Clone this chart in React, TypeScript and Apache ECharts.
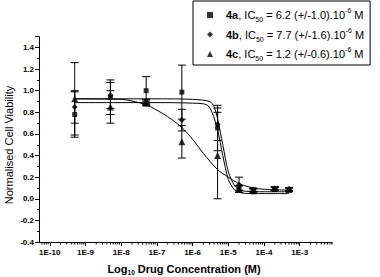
import React, { useEffect, useRef } from 'react';
import * as echarts from 'echarts';

const FONT = '"Liberation Sans", Arial, sans-serif';

// Concentrations (M)
const concentrations = [5e-10, 5e-9, 5e-8, 5e-7, 5e-6, 2e-5, 5e-5, 2e-4, 5e-4];

// Measured normalised viability and error (+/-)
const viability4a = [0.78, 0.94, 1.0, 0.987, 0.655, 0.1, 0.08, 0.09, 0.085];
const error4a = [0.21, 0.16, 0.13, 0.25, 0.21, 0.02, 0.015, 0.015, 0.015];
const viability4b = [0.85, 0.957, 0.9, 0.728, 0.69, 0.13, 0.085, 0.095, 0.09];
const error4b = [0.15, 0.12, 0.02, 0.1, 0.15, 0.07, 0.015, 0.015, 0.015];
const viability4c = [0.925, 0.85, 0.885, 0.527, 0.4, 0.09, 0.075, 0.095, 0.085];
const error4c = [0.335, 0.15, 0.02, 0.15, 0.4, 0.03, 0.015, 0.015, 0.015];

// Fitted curves
const fit4aX = [5e-10, 1e-7, 1e-6, 2.5e-6, 3.5e-6, 5e-6, 7e-6, 1e-5, 1.5e-5, 2e-5, 3e-5, 1e-4, 5e-4];
const fit4aY = [0.89, 0.89, 0.885, 0.87, 0.8, 0.64, 0.4, 0.18, 0.08, 0.06, 0.05, 0.048, 0.048];
const fit4bX = [5e-10, 1e-7, 1e-6, 3e-6, 4e-6, 5e-6, 7e-6, 1e-5, 1.5e-5, 2e-5, 3e-5, 1e-4, 5e-4];
const fit4bY = [0.925, 0.925, 0.92, 0.9, 0.85, 0.74, 0.5, 0.25, 0.12, 0.085, 0.07, 0.065, 0.065];
const fit4cX = [5e-10, 1e-8, 2e-8, 5e-8, 1e-7, 2e-7, 5e-7, 1e-6, 2e-6, 5e-6, 1e-5, 2e-5, 5e-5, 1e-4, 5e-4];
const fit4cY = [0.925, 0.92, 0.905, 0.87, 0.82, 0.76, 0.66, 0.55, 0.42, 0.27, 0.2, 0.14, 0.1, 0.088, 0.08];

// Legend texts
const compoundNames = ['4a', '4b', '4c'];
const ic50Values = ['6.2', '7.7', '1.2'];
const ic50Errors = ['1.0', '1.6', '0.6'];
const symbols = ['rect', 'diamond', 'triangle'];
const symbolSizes = [5, 6, 7];

// Axis titles
const yTitle = 'Normalised Cell Viability';
const xTitleParts = ['Log', '10', ' Drug Concentration (M)'];

// Axis settings
const X_MIN = 5e-11;
const X_MAX = 8e-3;
const Y_MIN = -0.4;
const Y_MAX = 1.5;
const Y_INTERVAL = 0.2;

const xMinorTicks: number[] = [];
for (let e = -11; e <= -3; e++) {
  for (let m = 2; m <= 9; m++) {
    const v = m * Math.pow(10, e);
    if (v > X_MIN * 1.01 && v <= X_MAX) xMinorTicks.push(v);
  }
}

export default function App() {
  const ref = useRef<HTMLDivElement>(null);
  useEffect(() => {
    if (!ref.current) return;
    const chart = echarts.init(ref.current, undefined, { renderer: 'svg' });
    const viab = [viability4a, viability4b, viability4c];
    const errs = [error4a, error4b, error4c];
    const fits = [
      [fit4aX, fit4aY],
      [fit4bX, fit4bY],
      [fit4cX, fit4cY],
    ];

    const series: any[] = [];
    compoundNames.forEach((n, i) => {
      series.push({
        name: 'fit' + n,
        type: 'line',
        smooth: 0.3,
        showSymbol: false,
        data: fits[i][0].map((x, k) => [x, fits[i][1][k]]),
        lineStyle: { color: '#000', width: 1 },
        z: 2,
        silent: true,
      });
    });
    compoundNames.forEach((n, i) => {
      series.push({
        name: 'err' + n,
        type: 'custom',
        encode: { x: 0, y: 1 },
        data: concentrations.map((c, k) => [c, viab[i][k], errs[i][k]]),
        renderItem: (params: any, api: any) => {
          const x = api.value(0);
          const y = api.value(1);
          const e = api.value(2);
          const top = api.coord([x, y + e]);
          const bot = api.coord([x, y - e]);
          const hw = 4;
          const st = { stroke: '#000', lineWidth: 1 };
          return {
            type: 'group',
            children: [
              { type: 'line', shape: { x1: top[0], y1: top[1], x2: bot[0], y2: bot[1] }, style: st },
              { type: 'line', shape: { x1: top[0] - hw, y1: top[1], x2: top[0] + hw, y2: top[1] }, style: st },
              { type: 'line', shape: { x1: bot[0] - hw, y1: bot[1], x2: bot[0] + hw, y2: bot[1] }, style: st },
            ],
          };
        },
        z: 3,
        silent: true,
      });
    });
    compoundNames.forEach((n, i) => {
      series.push({
        name: n,
        type: 'scatter',
        symbol: symbols[i],
        symbolSize: symbolSizes[i],
        data: concentrations.map((c, k) => [c, viab[i][k]]),
        itemStyle: { color: '#000' },
        z: 4,
      });
    });
    series.push({
      name: 'minorTicks',
      type: 'custom',
      encode: { x: 0, y: 1 },
      data: xMinorTicks.map((v) => [v, Y_MIN]),
      renderItem: (params: any, api: any) => {
        const p = api.coord([api.value(0), api.value(1)]);
        return {
          type: 'line',
          shape: { x1: p[0], y1: p[1], x2: p[0], y2: p[1] + 2.5 },
          style: { stroke: '#000', lineWidth: 1 },
        };
      },
      silent: true,
      z: 5,
    });

    const idx: Record<string, number> = { '4a': 0, '4b': 1, '4c': 2 };

    chart.setOption({
      animation: false,
      grid: { left: 39, right: 48, top: 36.7, bottom: 35, containLabel: false, outerBoundsMode: 'none' },
      xAxis: {
        type: 'log',
        logBase: 10,
        min: X_MIN,
        max: X_MAX,
        axisLine: { show: true, onZero: false, lineStyle: { color: '#000', width: 1 } },
        axisTick: { show: true, inside: false, length: 4, lineStyle: { color: '#000' } },
        splitLine: { show: false },
        axisLabel: {
          showMinLabel: false,
          showMaxLabel: false,
          color: '#000',
          fontFamily: FONT,
          fontWeight: 'bold',
          fontSize: 8,
          margin: 6,
          formatter: (v: number) => '1E' + Math.round(Math.log10(v)),
        },
      },
      yAxis: {
        type: 'value',
        min: Y_MIN,
        max: Y_MAX,
        interval: Y_INTERVAL,
        axisLine: { show: true, lineStyle: { color: '#000', width: 1 } },
        axisTick: { show: true, length: 4, lineStyle: { color: '#000' } },
        minorTick: { show: true, splitNumber: 2, length: 2, lineStyle: { color: '#000' } },
        splitLine: { show: false },
        axisLabel: {
          showMaxLabel: false,
          color: '#000',
          fontFamily: FONT,
          fontWeight: 'bold',
          fontSize: 8,
          margin: 5,
          formatter: (v: number) => v.toFixed(1),
        },
      },
      legend: {
        data: compoundNames,
        orient: 'vertical',
        left: 193,
        top: 1,
        padding: [6, 6, 3, 14],
        itemGap: 3.5,
        itemWidth: 6,
        itemHeight: 6,
        borderColor: '#000',
        borderWidth: 1,
        selectedMode: false,
        formatter: (name: string) => {
          const i = idx[name];
          return `{b|${name}}{t|, IC}{sub|50}{t| = ${ic50Values[i]} (+/-${ic50Errors[i]}).10}{sup|-6}{t| M}`;
        },
        textStyle: {
          color: '#000',
          fontFamily: FONT,
          fontSize: 11,
          rich: {
            b: { fontFamily: FONT, fontSize: 11, fontWeight: 'bold', color: '#000', lineHeight: 16, padding: [0, 0, 0, 8] },
            t: { fontFamily: FONT, fontSize: 11, color: '#000', lineHeight: 16 },
            sub: { fontFamily: FONT, fontSize: 7, color: '#000', lineHeight: 8, verticalAlign: 'bottom' },
            sup: { fontFamily: FONT, fontSize: 7, color: '#000', lineHeight: 8, verticalAlign: 'top' },
          },
        },
      },
      graphic: [
        {
          type: 'text',
          x: 184,
          y: 269,
          style: {
            text: `{a|${xTitleParts[0]}}{s|${xTitleParts[1]}}{a|${xTitleParts[2]}}`,
            align: 'center',
            verticalAlign: 'middle',
            rich: {
              a: { fontFamily: FONT, fontSize: 11, fontWeight: 'bold', fill: '#000', color: '#000', lineHeight: 14 },
              s: { fontFamily: FONT, fontSize: 6.5, fontWeight: 'bold', fill: '#000', color: '#000', lineHeight: 7, verticalAlign: 'bottom' },
            },
          },
        },
        {
          type: 'text',
          x: 9,
          y: 145,
          rotation: Math.PI / 2,
          style: {
            text: yTitle,
            align: 'center',
            verticalAlign: 'middle',
            fontFamily: FONT,
            fontSize: 11,
            fill: '#000',
          },
        },
      ],
      series,
    });
    return () => chart.dispose();
  }, []);
  return <div ref={ref} style={{ width: 380, height: 277, position: 'absolute', left: 0, top: 0 }} />;
}
